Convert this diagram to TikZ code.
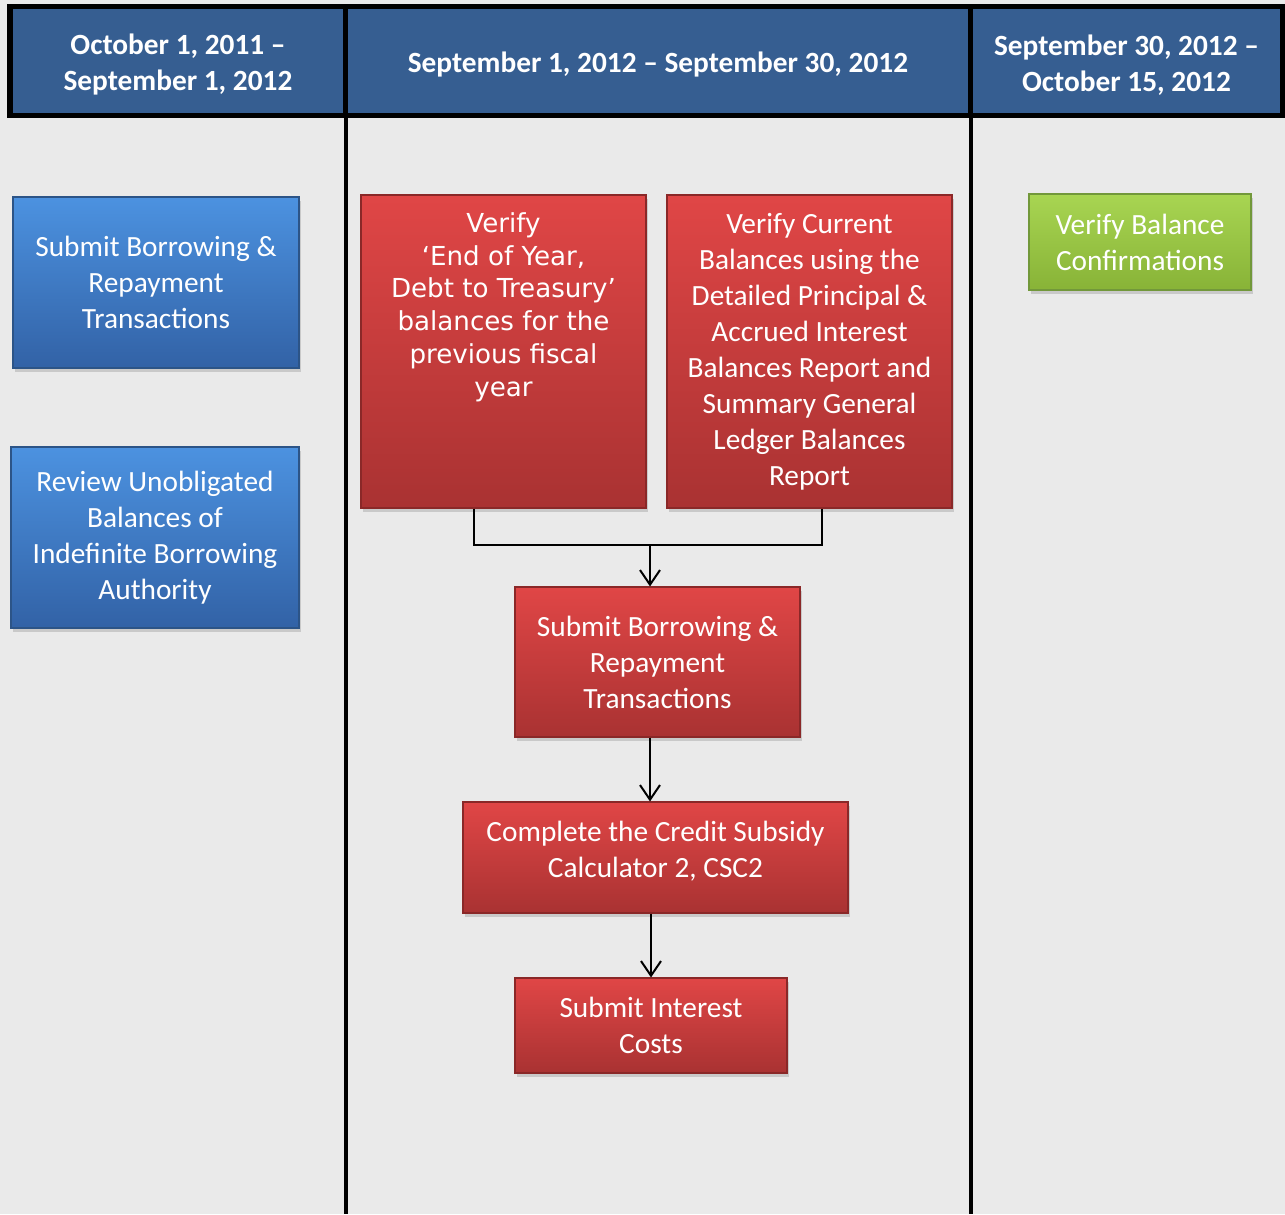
\documentclass[tikz,border=0pt]{standalone}
\usepackage{fontspec}
\setmainfont{Carlito}
\newfontfamily\verdfont{DejaVu Sans}
\usetikzlibrary{arrows.meta,shadows}
\definecolor{bgback}{HTML}{EAEAEA}
\definecolor{headblue}{HTML}{365E91}
\definecolor{bluetop}{HTML}{4C92E0}
\definecolor{bluebot}{HTML}{3262A6}
\definecolor{blueline}{HTML}{2C5487}
\definecolor{redtop}{HTML}{E04646}
\definecolor{redbot}{HTML}{A93232}
\definecolor{redline}{HTML}{8A2828}
\definecolor{greentop}{HTML}{A8D552}
\definecolor{greenbot}{HTML}{88B337}
\definecolor{greenline}{HTML}{72983A}

\begin{document}
\begin{tikzpicture}[x=0.75pt,y=-0.75pt,>={Straight Barb[length=11pt,width=15pt]},
head/.style={fill=headblue,text=white,align=center,inner sep=0pt,minimum height=78pt,font=\fontsize{22}{27}\selectfont\bfseries},
box/.style={rectangle,text=white,align=center,inner sep=0pt,line width=0.8pt,font=\fontsize{22}{27}\selectfont,drop shadow={shadow xshift=1.5pt,shadow yshift=-3pt,opacity=.3}},
bluebox/.style={box,draw=blueline,top color=bluetop,bottom color=bluebot},
redbox/.style={box,draw=redline,top color=redtop,bottom color=redbot},
greenbox/.style={box,draw=greenline,top color=greentop,bottom color=greenbot}]
\useasboundingbox (0,0) rectangle (1285,1214);
\fill[bgback] (0,0) rectangle (1285,1214);
\fill[black] (7,4) rectangle (1285,118);
\node[head,minimum width=247.5pt] (h1) at (178,61) {\mbox{}\\[-6pt]October 1, 2011 –\\September 1, 2012};
\node[head,minimum width=465pt] (h2) at (658,61) {\mbox{}\\[-6pt]September 1, 2012 – September 30, 2012};
\node[head,minimum width=230.25pt] (h3) at (1126.5,61) {\mbox{}\\[-6pt]September 30, 2012 –\\October 15, 2012};
\draw[line width=3pt] (346,118) -- (346,1214);
\draw[line width=3pt] (971,118) -- (971,1214);

\node[bluebox,minimum width=214.5pt,minimum height=128.25pt] (sub1) at (156,282.5) {Submit Borrowing \&\\Repayment\\Transactions};
\node[bluebox,minimum width=216pt,minimum height=135.75pt] (rev) at (155,537.5) {Review Unobligated\\Balances of\\Indefinite Borrowing\\Authority};
\node[redbox,minimum width=213.75pt,minimum height=234.75pt,font=\verdfont\fontsize{19.6}{24.6}\selectfont] (eoy) at (503.5,351.5) {Verify\\‘End of Year,\\Debt to Treasury’\\balances for the\\previous fiscal\\year\\[46pt]\mbox{}};
\node[redbox,minimum width=213.75pt,minimum height=234.75pt] (cur) at (809.5,351.5) {Verify Current\\Balances using the\\Detailed Principal \&\\Accrued Interest\\Balances Report and\\Summary General\\Ledger Balances\\Report};
\node[redbox,minimum width=213.75pt,minimum height=112.5pt] (sub2) at (657.5,662) {Submit Borrowing \&\\Repayment\\Transactions};
\node[redbox,minimum width=288.75pt,minimum height=83.25pt] (csc) at (655.5,857.5) {Complete the Credit Subsidy\\Calculator 2, CSC2\\[-14pt]\mbox{}};
\node[redbox,minimum width=204pt,minimum height=71.25pt] (int) at (651,1025.5) {Submit Interest\\Costs};
\node[greenbox,minimum width=166.5pt,minimum height=72pt] (conf) at (1140,242) {Verify Balance\\Confirmations};

\coordinate (join) at (650,545);
\draw[line width=1.2pt] ([xshift=-22pt]eoy.south) |- (join) -| ([xshift=9.4pt]cur.south);
\draw[->,line width=1.5pt] (join) -- (join |- sub2.north);
\draw[->,line width=1.5pt] (sub2.south -| join) -- (csc.north -| join);
\draw[->,line width=1.5pt] (csc.south -| int.north) -- (int.north);
\end{tikzpicture}
\end{document}
